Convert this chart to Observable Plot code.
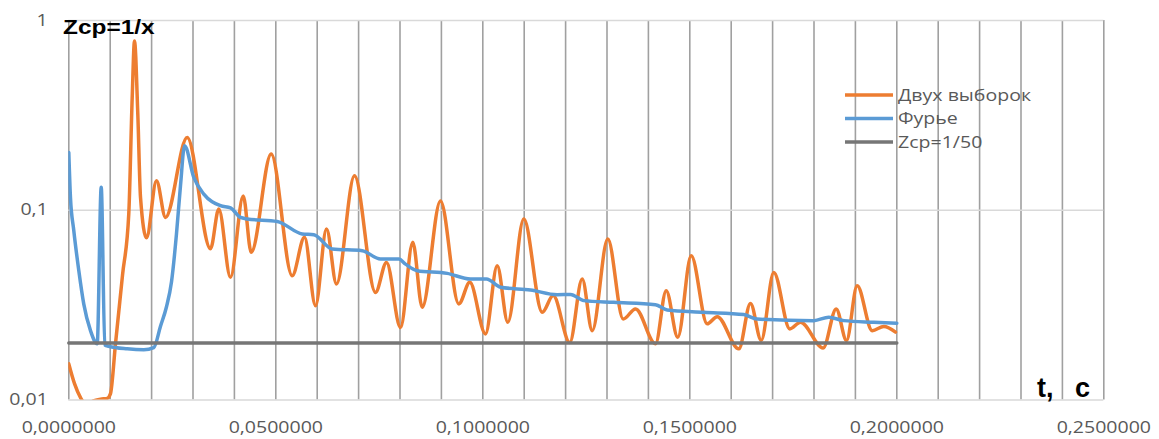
<!DOCTYPE html>
<html><head><meta charset="utf-8">
<script src="https://cdn.jsdelivr.net/npm/d3@7"></script>
<script src="https://cdn.jsdelivr.net/npm/@observablehq/plot@0.6"></script>
<style>body{margin:0;background:#fff} svg{display:block}</style>
</head><body><div id="chart"></div>
<script>
// ---- data ----
const seriesNames = ["Двух выборок", "Фурье", "Zcp=1/50"];
const seriesColors = ["#ED7D31", "#5B9BD5", "#767676"];

const tOrange = [0, 0.00138, 0.00283, 0.00428, 0.00597, 0.00766, 0.00928, 0.01007, 0.01128, 0.01297, 0.01449, 0.01531, 0.01587, 0.01667, 0.01732, 0.01877, 0.02118, 0.02336, 0.0286, 0.03423, 0.03623, 0.03906, 0.04213, 0.04406, 0.04889, 0.05396, 0.05693, 0.05959, 0.06225, 0.06466, 0.06901, 0.07408, 0.07674, 0.08012, 0.08309, 0.08536, 0.08978, 0.0942, 0.09686, 0.10065, 0.10348, 0.10604, 0.1099, 0.11435, 0.117, 0.12101, 0.12401, 0.12643, 0.13019, 0.13391, 0.13689, 0.14171, 0.1443, 0.1471, 0.15034, 0.1542, 0.15662, 0.16184, 0.16466, 0.16725, 0.17029, 0.17415, 0.17674, 0.18222, 0.18536, 0.18785, 0.19043, 0.19406, 0.19686, 0.19969];
const vOrange = [0.0155, 0.0122, 0.0103, 0.0094, 0.0099, 0.0101, 0.0102, 0.0108, 0.0198, 0.0454, 0.096, 0.39, 0.78, 0.32, 0.117, 0.0716, 0.143, 0.0917, 0.242, 0.0627, 0.1015, 0.0443, 0.119, 0.06, 0.198, 0.0452, 0.072, 0.0314, 0.0796, 0.0409, 0.152, 0.0369, 0.0531, 0.0241, 0.0678, 0.0308, 0.112, 0.0321, 0.0417, 0.0223, 0.051, 0.0257, 0.09, 0.029, 0.0355, 0.0201, 0.0434, 0.0232, 0.0705, 0.0267, 0.0302, 0.0198, 0.0377, 0.0214, 0.0576, 0.0252, 0.0275, 0.0186, 0.0323, 0.0206, 0.047, 0.0237, 0.0257, 0.0188, 0.0302, 0.0206, 0.040, 0.0232, 0.0244, 0.0228];

const tBlue = [0, 0.0004, 0.00121, 0.00242, 0.00362, 0.00524, 0.00686, 0.00783, 0.0087, 0.00964, 0.01411, 0.01812, 0.02053, 0.02215, 0.0236, 0.02481, 0.02601, 0.02698, 0.02797, 0.03019, 0.03261, 0.03664, 0.03906, 0.04147, 0.04309, 0.05034, 0.05638, 0.05918, 0.06362, 0.07087, 0.07529, 0.07971, 0.08133, 0.08415, 0.0914, 0.09703, 0.10089, 0.10428, 0.11152, 0.11797, 0.12118, 0.1244, 0.13164, 0.1417, 0.14454, 0.15338, 0.16304, 0.16628, 0.17995, 0.18357, 0.1872, 0.19444, 0.2];
const vBlue = [0.2015, 0.117, 0.078, 0.048, 0.032, 0.0232, 0.0198, 0.132, 0.0195, 0.0192, 0.0186, 0.0184, 0.0189, 0.0245, 0.031, 0.042, 0.075, 0.135, 0.219, 0.149, 0.1217, 0.1057, 0.103, 0.0916, 0.09, 0.0873, 0.075, 0.0743, 0.0625, 0.0612, 0.0553, 0.0553, 0.052, 0.048, 0.0465, 0.0434, 0.0434, 0.0393, 0.038, 0.0359, 0.036, 0.0334, 0.0327, 0.0318, 0.0298, 0.029, 0.0282, 0.0267, 0.0262, 0.0273, 0.0262, 0.0257, 0.0254];

const tZcp = [0, 0.2];
const vZcp = [0.02, 0.02];

const xTicks = [0, 0.05, 0.1, 0.15, 0.2, 0.25];
const xGrid = [0, 0.01, 0.02, 0.03, 0.04, 0.05, 0.06, 0.07, 0.08, 0.09, 0.1, 0.11, 0.12, 0.13, 0.14, 0.15, 0.16, 0.17, 0.18, 0.19, 0.2, 0.21, 0.22, 0.23, 0.24, 0.25];
const yTicks = [0.01, 0.1, 1];
const yTitle = "Zcp=1/x";
const xTitle = ["t,", " c"];

// ---- build ----
const orange = tOrange.map((t, i) => ({t, v: vOrange[i]}));
const blue = tBlue.map((t, i) => ({t, v: vBlue[i]}));
const zcp = tZcp.map((t, i) => ({t, v: vZcp[i]}));

const locale = d3.formatLocale({decimal: ",", thousands: "\u00a0", grouping: [3], currency: ["", ""]});
const fx = locale.format(".7f");
const fy = d => String(d).replace(".", ",");

const chart = Plot.plot({
  width: 1159, height: 439,
  marginLeft: 68.3, marginRight: 55.7, marginTop: 20, marginBottom: 39.5,
  style: {fontFamily: "'Open Sans', sans-serif", fontSize: "16px", color: "#595959", background: "white"},
  x: {domain: [0, 0.25]},
  y: {type: "log", domain: [0.01, 1]},
  marks: [
    Plot.gridX(xGrid, {stroke: "#a0a0a0", strokeOpacity: 1, strokeWidth: 1.6}),
    Plot.gridY(yTicks, {stroke: "#d9d9d9", strokeOpacity: 1, strokeWidth: 1.6}),
    Plot.axisX(xTicks, {tickFormat: fx, tickSize: 0, tickPadding: 22, label: null, fill: "#595959", fontSize: 16}),
    Plot.axisY(yTicks, {tickFormat: fy, tickSize: 0, tickPadding: 21, label: null, fill: "#595959", fontSize: 16}),
    Plot.line(orange, {x: "t", y: "v", stroke: seriesColors[0], strokeWidth: 3.5, curve: "monotone-x", clip: true}),
    Plot.line(blue, {x: "t", y: "v", stroke: seriesColors[1], strokeWidth: 3.5, curve: "monotone-x", clip: true}),
    Plot.line(zcp, {x: "t", y: "v", stroke: seriesColors[2], strokeWidth: 3.5})
  ]
});
document.getElementById("chart").appendChild(chart);

const svg = d3.select(chart);
// titles
svg.append("text").attr("x", 63).attr("y", 34).attr("text-anchor", "start")
  .attr("font-family", "'Liberation Sans', Arial, sans-serif")
  .attr("font-weight", "bold").attr("font-size", 20).attr("fill", "#000").text(yTitle);
const tt = svg.append("text").attr("x", 1037).attr("y", 397).attr("text-anchor", "start")
  .attr("font-family", "'Liberation Sans', Arial, sans-serif")
  .attr("font-weight", "bold").attr("font-size", 27).attr("fill", "#000");
tt.append("tspan").text(xTitle[0]);
tt.append("tspan").attr("dx", 14).text(xTitle[1]);

// legend
const lg = svg.append("g");
seriesNames.forEach((name, i) => {
  const y = 95 + i * 23.5;
  lg.append("line").attr("x1", 845).attr("x2", 893).attr("y1", y).attr("y2", y)
    .attr("stroke", seriesColors[i]).attr("stroke-width", 3.5);
  lg.append("text").attr("x", 898).attr("y", y).attr("dy", "0.35em").attr("text-anchor", "start")
    .attr("font-family", "'Open Sans', sans-serif").attr("font-size", 16).attr("fill", "#595959").text(name);
});

// horizontal stretch of text to mimic the reference rendering
const STRETCH = 1.22;
chart.querySelectorAll("text").forEach(el => {
  if (el.querySelector("tspan")) return;
  const w = el.getComputedTextLength();
  if (w > 0) {
    el.setAttribute("textLength", (w * STRETCH).toFixed(1));
    el.setAttribute("lengthAdjust", "spacingAndGlyphs");
  }
});
</script>
</body></html>
